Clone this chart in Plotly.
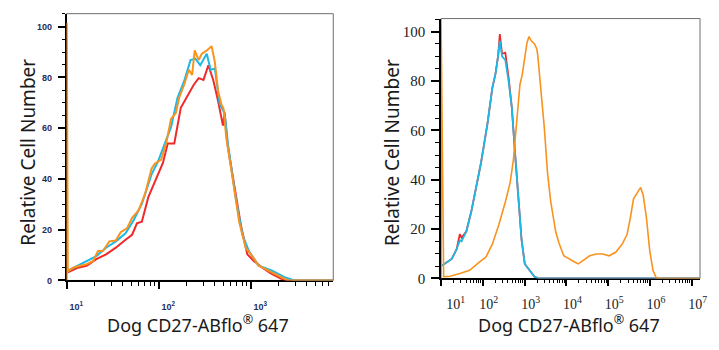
import plotly.graph_objects as go

# ---------------- data: left panel ----------------
L_red_x = [10.16, 12.76, 16.28, 20.77, 26.5, 33.8, 43.1, 50.8, 57.3, 64.8, 76.2, 93.3, 109.8, 124, 145.9,
           171.7, 201.9, 237.6, 268.3, 303, 342.3, 386.7, 436.8, 493.3, 513.7, 557.2, 655.6, 771.3, 907.2,
           1067, 1307, 1668, 2128, 2504, 7800]
L_red_y = [3.2, 4.9, 5.8, 8.4, 10.3, 12.9, 16, 18, 22.5, 23.1, 32.8, 40.5, 46.3, 54, 54,
           68, 72.6, 77.1, 79.7, 79, 84.8, 79, 70.7, 61, 66, 52.7, 37.3, 21.9, 10.3,
           7.7, 5.1, 2.6, 0.6, 0, 0]

L_cyan_x = [10.16, 12.76, 16.28, 20.77, 26.5, 33.8, 43.1, 52.9, 64.8, 82.6, 97.2, 114.4, 134.5, 158.2,
            186.2, 219, 247.4, 279.4, 328.7, 362.4, 402.7, 454.9, 513.7, 557.2, 682.8, 803.3, 944.8,
            1205, 1668, 2308, 2945, 7800]
L_cyan_y = [3.9, 5.8, 7.7, 9.6, 12.9, 15.4, 18.6, 23.8, 30.2, 41.8, 46.9, 54, 60.4, 72,
            78.4, 86.8, 87.4, 84.8, 89.3, 83, 83.5, 69.4, 66, 54, 32, 18, 11.6,
            5.8, 3.9, 1.3, 0, 0]

L_orange_x = [9.9, 9.9, 10.16, 11.77, 13.84, 16.28, 19.15, 21.63, 24.43, 28.75, 33.8, 38.2, 44.9, 50.8,
              59.7, 70.2, 82.6, 89.6, 105.4, 119.1, 134.5, 152, 164.8, 186.2, 210.3, 228, 243.4, 268.3,
              291, 328.7, 371.3, 402.7, 436.8, 473.8, 501.4, 535, 629.5, 740.6, 871, 1025, 1205, 1538,
              1963, 2504, 7800]
L_orange_y = [0, 101.5, 3.6, 5.1, 5.8, 6.4, 7.7, 11.6, 11.6, 15.4, 15.7, 19, 20.6, 24.7,
              27.6, 34, 44, 46, 47.6, 54, 63.6, 66, 72, 77, 83, 81, 90.6, 86.8,
              89.3, 90.6, 92.3, 86, 74.5, 69.4, 67.5, 56.5, 40, 23, 12.9, 9.6, 5.8, 3.9,
              1.9, 0, 0]

# ---------------- data: right panel ----------------
R_red_x = [10.55, 13.8, 18.05, 23.6, 28.2, 30.9, 40.4, 52.8, 69.1, 90.3, 108, 129.2, 168.9, 202, 233, 255,
           289, 345.6, 413.3, 494.3, 590.9, 707, 845, 1011, 1322, 1729, 2261, 1.58e7]
R_red_y = [5.3, 6.6, 7.9, 11.9, 18, 16.5, 19.1, 27, 36.3, 46.8, 54.7, 62.7, 77.2, 83.1, 90.4, 99,
           91, 91.5, 81.5, 69.3, 50.8, 32.3, 15.8, 5.9, 3.3, 0.7, 0, 0]

R_cyan_x = [10.55, 13.8, 18.05, 23.6, 28.2, 30.9, 40.4, 52.8, 69.1, 90.3, 108, 129.2, 168.9, 202, 233, 255,
            289, 345.6, 413.3, 494.3, 590.9, 707, 845, 1011, 1322, 1729, 2261, 1.58e7]
R_cyan_y = [5.3, 6.6, 7.9, 11.9, 15.5, 15.0, 19.1, 27, 36.3, 46.8, 54.7, 62.7, 77.2, 83.1, 90.4, 96.3,
            90, 88.5, 80, 69.3, 50.8, 32.3, 15.8, 5.9, 3.3, 0.7, 0, 0]

R_orange_x = [10.05, 10.05, 11.54, 16.51, 28.2, 48.3, 82.6, 118.1, 168.9, 241.6, 345.6, 451.9, 540.4, 590.9,
              682, 773, 876, 1011, 1146, 1276, 1446, 1729, 1960, 2068, 2474, 2957, 3537, 4229, 5531,
              6614, 8652, 12375, 16181, 19349, 25316, 36213, 51797, 74091, 105900, 151500, 216700,
              283400, 338800, 405300, 511400, 600500, 693100, 828600, 991300, 1185600, 1418000,
              1696000, 1.58e7]
R_orange_y = [0, 101.6, 0.7, 0.9, 2, 3.3, 6.6, 8.6, 13.9, 21.8, 31, 38.9, 48.2, 56.1,
              67.9, 78.5, 82.5, 89, 95.6, 98, 96.3, 95, 93, 90.4, 77.2, 61.3, 42.9, 31, 19.1,
              14.5, 9.2, 7.9, 6.6, 5.9, 7.3, 9.2, 9.9, 9.9, 9.2, 10.6, 13.9,
              17.8, 24.4, 32.3, 35, 36.9, 33.6, 24.4, 11.2, 3.3, 0.3,
              0, 0]

# ---------------- ticks ----------------
L_tick_vals = [10, 100, 1000]
L_tick_text = ["10<sup>1</sup>", "10<sup>2</sup>", "10<sup>3</sup>"]
R_tick_vals = [1e1, 1e2, 1e3, 1e4, 1e5, 1e6, 1e7]
NB = "\u00a0"
R_tick_text = [NB * 5 + "10<sup>1</sup>", "10<sup>2</sup>", "10<sup>3</sup>", "10<sup>4</sup>",
               "10<sup>5</sup>", "10<sup>6</sup>", "10<sup>7</sup>"]
Y_tick_vals = [0, 20, 40, 60, 80, 100]

L_minor = [k * 10 ** n for n in range(1, 4) for k in range(2, 10) if k * 10 ** n < 7700]
R_minor = [k * 10 ** n for n in range(1, 8) for k in range(2, 10) if k * 10 ** n < 1.58e7]

RED = "#f02a2a"
CYAN = "#1cb8e8"
ORANGE = "#f7931e"

fig = go.Figure()

def add(x, y, color, width, xa, ya):
    fig.add_trace(go.Scatter(x=x, y=y, mode="lines", line=dict(color=color, width=width),
                             xaxis=xa, yaxis=ya, showlegend=False, hoverinfo="skip"))

add(L_red_x, L_red_y, RED, 2, "x", "y")
add(L_cyan_x, L_cyan_y, CYAN, 2, "x", "y")
add(L_orange_x, L_orange_y, ORANGE, 2, "x", "y")
add(R_red_x, R_red_y, RED, 1.8, "x2", "y2")
add(R_cyan_x, R_cyan_y, CYAN, 1.8, "x2", "y2")
add(R_orange_x, R_orange_y, ORANGE, 1.6, "x2", "y2")

L_font = dict(family="Liberation Sans", size=9, color="#1f2d5c", weight="bold")
R_font = dict(family="Liberation Serif, Times New Roman, serif", size=15, color="#222222")
RX_font = dict(family="Liberation Serif, Times New Roman, serif", size=14, color="#222222")

fig.update_layout(
    width=719, height=350,
    margin=dict(l=0, r=0, t=0, b=0),
    paper_bgcolor="white", plot_bgcolor="white",
    xaxis=dict(type="log", range=[0.993, 3.892], domain=[56 / 719, 330 / 719], anchor="y",
               showgrid=False, zeroline=False, showline=True, linecolor="black", linewidth=1.5,
               tickmode="array", tickvals=L_tick_vals, ticktext=L_tick_text,
               ticks="outside", ticklen=7, tickwidth=1.5, tickcolor="black",
               tickfont=L_font, ticklabelshift=9, ticklabelstandoff=10, layer="below traces",
               minor=dict(tickmode="array", tickvals=L_minor, ticks="outside", ticklen=4,
                          tickwidth=1.2, tickcolor="black", showgrid=False)),
    yaxis=dict(range=[0, 105.1], domain=[1 - 287 / 350, 1 - 14 / 350], anchor="x",
               showgrid=False, zeroline=False, showline=True, linecolor="black", linewidth=1.5,
               tickmode="array", tickvals=Y_tick_vals,
               ticks="outside", ticklen=7, tickwidth=1.5, tickcolor="black",
               tickfont=L_font, ticklabelstandoff=4, layer="below traces",
               minor=dict(dtick=5, tick0=0, ticks="outside", ticklen=3, tickwidth=1,
                          tickcolor="black", showgrid=False)),
    xaxis2=dict(type="log", range=[1.0, 7.2], domain=[440.7 / 719, 706.7 / 719], anchor="y2",
                showgrid=False, zeroline=False, showline=True, linecolor="black", linewidth=1.5,
                tickmode="array", tickvals=R_tick_vals, ticktext=R_tick_text,
                ticks="outside", ticklen=6, tickwidth=1.5, tickcolor="black",
                tickfont=RX_font, ticklabelshift=6, ticklabelstandoff=6, layer="below traces",
                ticklabeloverflow="allow",
                minor=dict(tickmode="array", tickvals=R_minor, ticks="outside", ticklen=3,
                           tickwidth=1, tickcolor="black", showgrid=False)),
    yaxis2=dict(range=[0, 105.3], domain=[1 - 285 / 350, 1 - 19 / 350], anchor="x2",
                showgrid=False, zeroline=False, showline=True, linecolor="black", linewidth=1.5,
                tickmode="array", tickvals=Y_tick_vals,
                ticks="outside", ticklen=8, tickwidth=1.5, tickcolor="black",
                tickfont=R_font, ticklabelstandoff=3, layer="below traces",
                minor=dict(dtick=5, tick0=0, ticks="outside", ticklen=4, tickwidth=1,
                           tickcolor="black", showgrid=False)),
    shapes=[
        dict(type="rect", xref="x domain", yref="y domain", x0=0, x1=1, y0=0, y1=1,
             line=dict(color="#6e6e6e", width=1), layer="below"),
        dict(type="rect", xref="x2 domain", yref="y2 domain", x0=0, x1=1, y0=0, y1=1,
             line=dict(color="#6e6e6e", width=1), layer="below"),
    ],
)

YT_FONT = dict(family="Noto Sans", size=19, color="#1a1a1a")
XT_FONT = dict(family="Noto Sans", size=18, color="#1a1a1a")
Y_TITLE = "Relative Cell Number"
X_TITLE = "Dog CD27-ABflo<sup>®</sup> 647"

fig.add_annotation(text=Y_TITLE, xref="paper", yref="paper", x=16.7 / 719, y=1 - 156 / 350,
                   textangle=-90, showarrow=False, font=YT_FONT, xanchor="center", yanchor="middle")
fig.add_annotation(text=Y_TITLE, xref="paper", yref="paper", x=391 / 719, y=1 - 156 / 350,
                   textangle=-90, showarrow=False, font=YT_FONT, xanchor="center", yanchor="middle")
fig.add_annotation(text=X_TITLE, xref="paper", yref="paper", x=191 / 719, y=1 - 332 / 350,
                   showarrow=False, font=XT_FONT, xanchor="center", yanchor="middle")
fig.add_annotation(text=X_TITLE, xref="paper", yref="paper", x=572 / 719, y=1 - 332 / 350,
                   showarrow=False, font=XT_FONT, xanchor="center", yanchor="middle")

fig.write_html("out.html")
